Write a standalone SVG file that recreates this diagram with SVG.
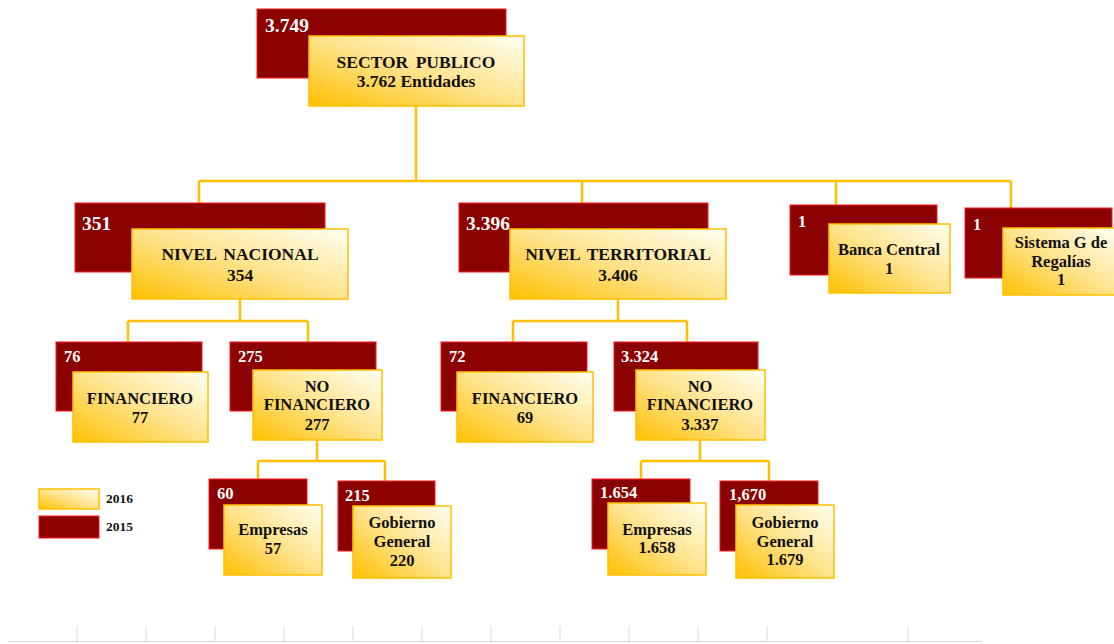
<svg xmlns="http://www.w3.org/2000/svg" width="1114" height="644" viewBox="0 0 1114 644">
<defs>
<linearGradient id="g" x1="0" y1="1" x2="1" y2="0">
<stop offset="0" stop-color="#FFC000"/>
<stop offset="0.5" stop-color="#FFE38C"/>
<stop offset="1" stop-color="#FFFFF4"/>
</linearGradient>
<style>
.r{fill:#8B0000;stroke:#FF1A1A;stroke-width:1}
.y{fill:url(#g);stroke:#FFC000;stroke-width:1.5}
.c{fill:none;stroke:#FFC000;stroke-width:2.5}
.t{font-family:"Liberation Serif","Times New Roman",serif;font-weight:bold;fill:#111;text-anchor:middle;font-size:16.5px}
.t1{font-size:17.5px}
.n{font-family:"Liberation Serif","Times New Roman",serif;font-weight:bold;fill:#fff;font-size:16.5px}
.n1{font-size:19.5px}
.l{font-family:"Liberation Serif","Times New Roman",serif;font-weight:bold;fill:#111;font-size:13.5px}
.ax{stroke:#D9D9D9;stroke-width:1;fill:none}
</style>
</defs>
<rect width="1114" height="644" fill="#fff"/>
<g id="connectors">
<path class="c" d="M416 106V181M199 181H1011M199 181V203M582 181V203M836 181V205M1011 181V208"/>
<path class="c" d="M240 299V321M128 321H308M128 321V342M308 321V342"/>
<path class="c" d="M618 299V321M513 321H687M513 321V342M687 321V342"/>
<path class="c" d="M317 440V461M258 461H385M258 461V479M385 461V481"/>
<path class="c" d="M700 440V461M641 461H769M641 461V479M769 461V481"/>
</g>
<g id="sector-publico">
<rect class="r" x="257" y="9" width="249" height="69"/>
<text class="n n1" x="265" y="32">3.749</text>
<rect class="y" x="309" y="36" width="215" height="70"/>
<text class="t t1" x="416" y="68" word-spacing="3">SECTOR PUBLICO</text>
<text class="t t1" x="416" y="87">3.762 Entidades</text>
</g>
<g id="nivel-nacional">
<rect class="r" x="75" y="203" width="250" height="69"/>
<text class="n n1" x="82" y="230">351</text>
<rect class="y" x="132" y="229" width="216" height="70"/>
<text class="t t1" x="240" y="260" word-spacing="3">NIVEL NACIONAL</text>
<text class="t t1" x="240" y="281">354</text>
</g>
<g id="nivel-territorial">
<rect class="r" x="459" y="203" width="249" height="69"/>
<text class="n n1" x="466" y="230">3.396</text>
<rect class="y" x="510" y="229" width="216" height="70"/>
<text class="t t1" x="618" y="260" word-spacing="3">NIVEL TERRITORIAL</text>
<text class="t t1" x="618" y="281">3.406</text>
</g>
<g id="banca-central">
<rect class="r" x="790" y="205" width="147" height="70"/>
<text class="n" x="798" y="227">1</text>
<rect class="y" x="829" y="224" width="121" height="69"/>
<text class="t" x="889" y="255">Banca Central</text>
<text class="t" x="889" y="274">1</text>
</g>
<g id="sistema-regalias">
<rect class="r" x="965" y="208" width="147" height="70"/>
<text class="n" x="973" y="230">1</text>
<rect class="y" x="1003" y="228" width="113" height="67"/>
<text class="t" x="1061" y="248">Sistema G de</text>
<text class="t" x="1061" y="267">Regalías</text>
<text class="t" x="1061" y="285">1</text>
</g>
<g id="financiero-nacional">
<rect class="r" x="56" y="342" width="146" height="69"/>
<text class="n" x="64" y="362">76</text>
<rect class="y" x="73" y="372" width="135" height="70"/>
<text class="t" x="140" y="404">FINANCIERO</text>
<text class="t" x="140" y="423">77</text>
</g>
<g id="no-financiero-nacional">
<rect class="r" x="230" y="342" width="146" height="69"/>
<text class="n" x="238" y="362">275</text>
<rect class="y" x="253" y="370" width="129" height="70"/>
<text class="t" x="317" y="392">NO</text>
<text class="t" x="317" y="410">FINANCIERO</text>
<text class="t" x="317" y="430">277</text>
</g>
<g id="financiero-territorial">
<rect class="r" x="441" y="342" width="146" height="69"/>
<text class="n" x="449" y="362">72</text>
<rect class="y" x="457" y="372" width="136" height="70"/>
<text class="t" x="525" y="404">FINANCIERO</text>
<text class="t" x="525" y="423">69</text>
</g>
<g id="no-financiero-territorial">
<rect class="r" x="614" y="342" width="144" height="69"/>
<text class="n" x="621" y="362">3.324</text>
<rect class="y" x="636" y="370" width="129" height="70"/>
<text class="t" x="700" y="392">NO</text>
<text class="t" x="700" y="410">FINANCIERO</text>
<text class="t" x="700" y="430">3.337</text>
</g>
<g id="empresas-nacional">
<rect class="r" x="209" y="479" width="98" height="70"/>
<text class="n" x="217" y="499">60</text>
<rect class="y" x="224" y="505" width="98" height="70"/>
<text class="t" x="273" y="535">Empresas</text>
<text class="t" x="273" y="554">57</text>
</g>
<g id="gobierno-nacional">
<rect class="r" x="338" y="481" width="97" height="70"/>
<text class="n" x="345" y="501">215</text>
<rect class="y" x="353" y="506" width="98" height="72"/>
<text class="t" x="402" y="528">Gobierno</text>
<text class="t" x="402" y="547">General</text>
<text class="t" x="402" y="566">220</text>
</g>
<g id="empresas-territorial">
<rect class="r" x="592" y="479" width="98" height="70"/>
<text class="n" x="600" y="498">1.654</text>
<rect class="y" x="608" y="503" width="98" height="72"/>
<text class="t" x="657" y="535">Empresas</text>
<text class="t" x="657" y="553">1.658</text>
</g>
<g id="gobierno-territorial">
<rect class="r" x="720" y="481" width="98" height="70"/>
<text class="n" x="729" y="500">1,670</text>
<rect class="y" x="736" y="505" width="98" height="73"/>
<text class="t" x="785" y="528">Gobierno</text>
<text class="t" x="785" y="547">General</text>
<text class="t" x="785" y="565">1.679</text>
</g>
<g id="legend">
<rect class="y" x="39" y="489" width="60" height="20"/>
<text class="l" x="106" y="503">2016</text>
<rect class="r" x="39" y="516" width="60" height="22"/>
<text class="l" x="106" y="531">2015</text>
</g>
<g id="axis">
<path class="ax" d="M8 641.5H982M77 626V642M146 626V642M215 626V642M284 626V642M353 626V642M422 626V642M491 626V642M560 626V642M629 626V642M698 626V642M767 626V642M908 626V642"/>
</g>
</svg>
